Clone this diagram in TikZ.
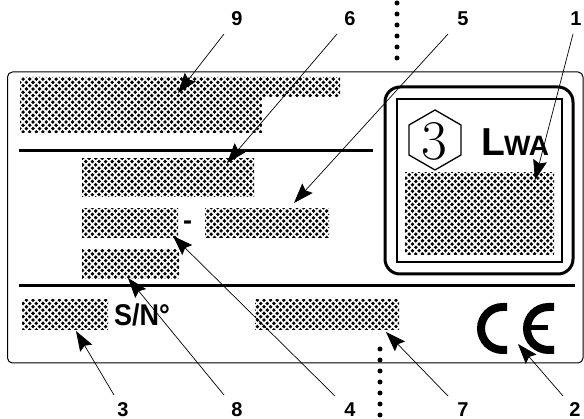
\documentclass[tikz,border=0pt]{standalone}
\usepackage{fontspec}
\setmainfont{Liberation Sans}
\newfontfamily\lmserif{Latin Modern Roman}
\usetikzlibrary{patterns,arrows.meta,shapes.geometric}
\pgfdeclarepatternformonly{halftone}{\pgfqpoint{-3pt}{-3pt}}{\pgfqpoint{5.6pt}{5.6pt}}{\pgfqpoint{6.6pt}{6.6pt}}{%
  \pgfpathcircle{\pgfqpoint{0pt}{0pt}}{1.9pt}
  \pgfpathcircle{\pgfqpoint{3.3pt}{3.3pt}}{1.9pt}
  \pgfusepath{fill}}
\tikzset{
  x=1pt,y=-1pt,
  shade/.style={pattern=halftone,pattern color=black},
  num/.style={font=\fontsize{20}{20}\selectfont\bfseries,inner sep=0pt},
  lead/.style={line width=.7pt,-{Stealth[length=20pt,width=14pt,inset=3pt]}},
  rule/.style={line width=3pt},
  dotline/.style={line width=5pt,line cap=round,dash pattern=on 0pt off 11pt},
  ce/.style={line width=8pt}
}
\begin{document}
\begin{tikzpicture}
\useasboundingbox (0,0) rectangle (584,419);
\fill[white] (0,0) rectangle (584,419);
% label frame
\draw[line width=1pt,rounded corners=5pt] (7.5,72) rectangle (583,363);
% shaded fields
\fill[shade] (20,77) -- (340,77) -- (340,97) -- (262,97) -- (262,133) -- (20,133) -- cycle;
\fill[shade] (82,159) rectangle (254,197);
\fill[shade] (82,209) rectangle (178,238);
\fill[shade] (205,209) rectangle (329,238);
\fill[shade] (82,250) rectangle (179,279);
\fill[shade] (22,300) rectangle (108,330);
\fill[shade] (255,300) rectangle (399,330);
\fill[shade] (405,173) rectangle (554,255);
% rules
\draw[rule] (19,151) -- (373,151);
\draw[rule] (19,286) -- (575,286);
% noise box
\draw[line width=3pt,rounded corners=15pt] (385,87) rectangle (573,274);
\draw[line width=2pt] (397,99) rectangle (562,262);
\node[draw,line width=1.3pt,regular polygon,regular polygon sides=6,shape border rotate=30,minimum size=60pt,inner sep=0pt] (hex) at (435,140) {};
\node[inner sep=0pt] (three) at (434,141) {\lmserif\fontsize{56}{56}\selectfont 3};
\node[inner sep=0pt,anchor=base west,font=\bfseries] (lwa) at (481,156) {\fontsize{39}{39}\selectfont L\kern-1pt\fontsize{28}{28}\selectfont WA};
% small text
\node[inner sep=0pt,anchor=base west,font=\fontsize{30}{30}\selectfont\bfseries,xscale=.9] (sn) at (114,326) {S/N°};
\node[inner sep=0pt,anchor=base,font=\fontsize{27}{27}\selectfont\bfseries] (dash) at (187.5,229.5) {-};
% CE mark (y axis points down, so the arcs run the other way)
\draw[ce] (507,307) -- (502.5,307) arc[start angle=-90,end angle=-270,radius=21.5] -- (507,350);
\draw[ce] (554,307) -- (548.5,307) arc[start angle=-90,end angle=-270,radius=21.5] -- (554,350);
\draw[line width=5pt] (527,328) -- (548,328);
% dotted fold lines
\coordinate (dta) at (397,3);
\coordinate (dtb) at (397,60);
\coordinate (dba) at (380,349);
\coordinate (dbb) at (380,419);
\draw[dotline] (dta) -- (dtb);
\draw[dotline] (dba) -- (dbb);
% callout numbers
\node[num] (n9) at (237,19) {9};
\node[num] (n6) at (350,19) {6};
\node[num] (n5) at (463,19) {5};
\node[num] (n1) at (576,19) {1};
\node[num] (n3) at (123,410) {3};
\node[num] (n8) at (237,410) {8};
\node[num] (n4) at (350,410) {4};
\node[num] (n7) at (463,410) {7};
\node[num] (n2) at (575,410) {2};
% leader ends
\coordinate (s9) at (224,34);
\coordinate (s6) at (337,34);
\coordinate (s5) at (448,34);
\coordinate (s1) at (573,34);
\coordinate (s4) at (335,396);
\coordinate (s8) at (224,395);
\coordinate (s3) at (114,395);
\coordinate (s7) at (448,396);
\coordinate (s2) at (563,396);
\coordinate (t9) at (178,93);
\coordinate (t6) at (227,163);
\coordinate (t5) at (294,203);
\coordinate (t1) at (535,180);
\coordinate (t4) at (173,236);
\coordinate (t8) at (128,278);
\coordinate (t3) at (76,331);
\coordinate (t7) at (386,332);
\coordinate (t2) at (518,344);
\draw[lead] (s9) -- (t9);
\draw[lead] (s6) -- (t6);
\draw[lead] (s5) -- (t5);
\draw[lead] (s1) -- (t1);
\draw[lead] (s4) -- (t4);
\draw[lead] (s8) -- (t8);
\draw[lead] (s3) -- (t3);
\draw[lead] (s7) -- (t7);
\draw[lead] (s2) -- (t2);
\end{tikzpicture}
\end{document}
